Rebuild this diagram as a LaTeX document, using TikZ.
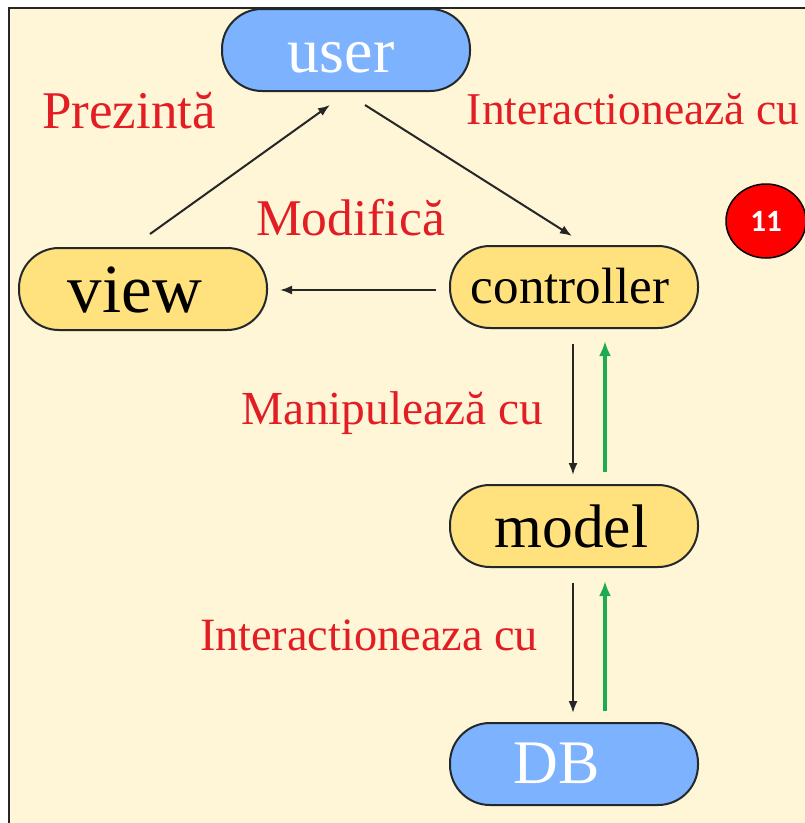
\documentclass[tikz,border=0pt]{standalone}
\usepackage{fontspec}
\setmainfont{Liberation Serif}
\newfontfamily\badgefont{Carlito}
\usetikzlibrary{arrows.meta,shapes.geometric,calc}
\definecolor{paper}{RGB}{255,245,215}
\definecolor{pillyellow}{RGB}{255,225,125}
\definecolor{pillblue}{RGB}{125,178,255}
\definecolor{pillborder}{RGB}{35,40,45}
\definecolor{labelred}{RGB}{226,30,36}
\definecolor{flowgreen}{RGB}{30,170,80}
\newcommand{\fsz}[1]{\fontsize{#1}{#1}\selectfont}
\begin{document}
\begin{tikzpicture}[x=1pt,y=-1pt,
  pill/.style={draw=pillborder,line width=2pt,rounded corners=40pt,
    minimum width=248pt,minimum height=82pt,inner sep=0pt,text depth=0pt},
  yellowpill/.style={pill,fill=pillyellow,text=black},
  bluepill/.style={pill,fill=pillblue,text=white},
  lbl/.style={text=labelred,inner sep=0pt,anchor=base},
  link/.style={draw=black!85,line width=2pt,-{Latex[length=12pt,width=9pt]}},
  back/.style={draw=flowgreen,line width=3.6pt,-{Latex[length=15pt,width=12pt]}}]
  \useasboundingbox (0,0) rectangle (805,823);
  % page frame
  \fill[white] (0,0) rectangle (805,823);
  \fill[paper] (9,8) rectangle (805,823);
  \draw[black!85,line width=1.8pt] (9,823) -- (9,8) -- (805,8);

  % components (trailing kern sets the text a little left of centre)
  \node[bluepill,font=\fsz{64},text height=44pt] (user) at (346,50) {user\kern10pt};
  \node[yellowpill,font=\fsz{69},text height=46pt] (view) at (143,289) {view\kern16pt};
  \node[yellowpill,font=\fsz{51},text height=32pt] (ctrl) at (574,287) {controller\kern8pt};
  \node[yellowpill,font=\fsz{61.5},text height=42pt] (model) at (574,526) {model\kern5pt};
  \node[bluepill,font=\fsz{62},text height=38pt] (db) at (574,764) {DB\kern35pt};

  % slide number badge
  \node[ellipse,draw=black,line width=1.5pt,fill=red,text=white,
        minimum width=80pt,minimum height=74pt,inner sep=0pt,
        font=\badgefont\bfseries\fsz{31}] (badge) at (766,221) {11};

  % relation labels
  \node[lbl,font=\fsz{53}] (lpre) at (129,128) {Prezintă};
  \node[lbl,font=\fsz{45.5}] (lint) at (633,124) {Interactionează cu};
  \node[lbl,font=\fsz{51.5}] (lmod) at (350.5,235) {Modifică};
  \node[lbl,font=\fsz{47.4}] (lman) at (392.5,424) {Manipulează cu};
  \node[lbl,font=\fsz{46.3}] (lint2) at (369,650) {Interactioneaza cu};

  % connectors
  \draw[link] ([xshift=7pt,yshift=13pt]view.north) -- ([xshift=-16pt,yshift=-13pt]user.south);
  \draw[link] ([xshift=19pt,yshift=-13pt]user.south) -- ([xshift=-2pt,yshift=9pt]ctrl.north);
  \draw[link] ([xshift=-13pt,yshift=-3pt]ctrl.west) -- ($(view.east |- ctrl.west)+(12,3)$);
  \draw[link] ([xshift=-1pt,yshift=-15pt]ctrl.south) -- ([xshift=-1pt,yshift=9pt]model.north);
  \draw[back] ([xshift=31pt,yshift=12pt]model.north) -- ([xshift=31pt,yshift=-12pt]ctrl.south);
  \draw[link] ([xshift=-1pt,yshift=-15pt]model.south) -- ([xshift=-1pt,yshift=9pt]db.north);
  \draw[back] ([xshift=31pt,yshift=11pt]db.north) -- ([xshift=31pt,yshift=-13pt]model.south);
\end{tikzpicture}
\end{document}
